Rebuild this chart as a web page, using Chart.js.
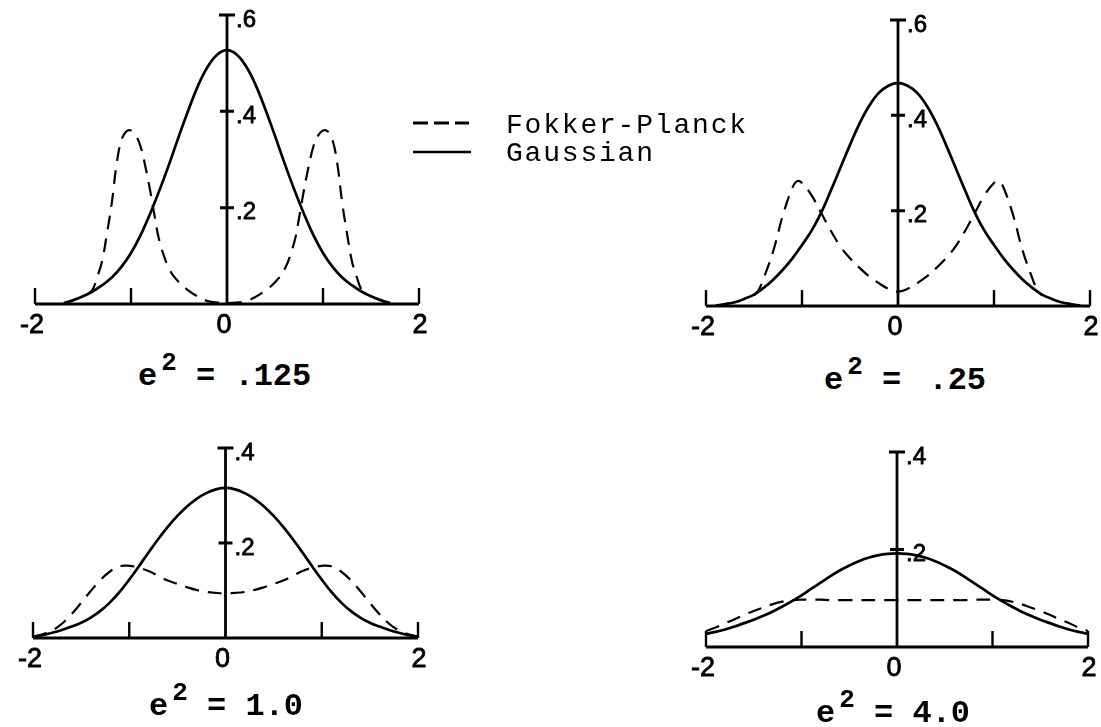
<!DOCTYPE html>
<html lang="en">
<head>
  <meta charset="utf-8">
  <title>Fokker-Planck vs Gaussian</title>
  <style>
    body { margin: 0; background: #fff; }
    #page { position: relative; width: 1101px; height: 727px; overflow: hidden; background: #fff; }
    canvas { position: absolute; }
    .mono { position: absolute; font-family: "Liberation Mono", "DejaVu Sans Mono", monospace; color: #000; white-space: pre; }
    .legend { font-size: 28px; line-height: 28px; letter-spacing: 1.8px; }
    .caption { font-size: 32px; line-height: 32px; font-weight: bold; }
    .caption sup { font-size: 26px; line-height: 0; position: relative; top: -3px; margin-left: 4px; }
    svg { position: absolute; }
  </style>
</head>
<body>
<div id="page">
  <canvas id="c1" width="450" height="350" style="left:0px;top:0px"></canvas>
  <canvas id="c2" width="441" height="350" style="left:660px;top:0px"></canvas>
  <canvas id="c3" width="450" height="327" style="left:0px;top:400px"></canvas>
  <canvas id="c4" width="441" height="327" style="left:660px;top:400px"></canvas>

  <!-- legend -->
  <svg width="70" height="44" style="left:408px;top:112px">
    <line x1="5" y1="11" x2="61" y2="11" stroke="#000" stroke-width="3" stroke-dasharray="15 6"></line>
    <line x1="5" y1="40" x2="63" y2="40" stroke="#000" stroke-width="2.6"></line>
  </svg>
  <div class="mono legend" style="left:506px;top:112px">Fokker-Planck</div>
  <div class="mono legend" style="left:506px;top:140px">Gaussian</div>

  <!-- captions -->
  <div class="mono caption" style="left:138px;top:361px">e<sup>2</sup> = .125</div>
  <div class="mono caption" style="left:824px;top:365px">e<sup>2</sup> = <span style="margin-left:8px">.25</span></div>
  <div class="mono caption" style="left:149px;top:691px">e<sup>2</sup> = 1.0</div>
  <div class="mono caption" style="left:816px;top:698px">e<sup>2</sup> = 4.0</div>
</div>

<script src="https://cdn.jsdelivr.net/npm/chart.js/dist/chart.umd.min.js"></script>
<script>
// axis ticks and labels
const xTickMarks = [-2, -1, 1, 2];
const xLabelValues = [-2, 0, 2];
const xLabels = ['-2', '0', '2'];
const yTicksTall = [0.2, 0.4, 0.6];
const yLabelsTall = ['.2', '.4', '.6'];
const yTicksShort = [0.2, 0.4];
const yLabelsShort = ['.2', '.4'];

// e^2 = .125
const x1Gauss = [-1.7, -1.6, -1.5, -1.4, -1.3, -1.2, -1.1, -1.0, -0.9, -0.8, -0.7, -0.6, -0.5, -0.4, -0.3, -0.2, -0.1, 0,
  0.1, 0.2, 0.3, 0.4, 0.5, 0.6, 0.7, 0.8, 0.9, 1.0, 1.1, 1.2, 1.3, 1.4, 1.5, 1.6, 1.7];
const gauss1 = [0.002, 0.008, 0.016, 0.026, 0.039, 0.055, 0.077, 0.106, 0.143, 0.188, 0.238, 0.292, 0.349, 0.404, 0.454, 0.493, 0.518, 0.527,
  0.518, 0.493, 0.454, 0.404, 0.349, 0.292, 0.238, 0.188, 0.143, 0.106, 0.077, 0.055, 0.039, 0.026, 0.016, 0.008, 0.002];
const x1Fokker = [-1.45, -1.4, -1.35, -1.3, -1.25, -1.2, -1.15, -1.1, -1.05, -1, -0.95, -0.9, -0.85, -0.8, -0.75, -0.7, -0.6, -0.5, -0.4, -0.3, -0.2, -0.1, 0,
  0.1, 0.2, 0.3, 0.4, 0.5, 0.6, 0.7, 0.75, 0.8, 0.85, 0.9, 0.95, 1, 1.05, 1.1, 1.15, 1.2, 1.25, 1.3, 1.35, 1.4, 1.45];
const fokker1 = [0.02, 0.03, 0.057, 0.09, 0.147, 0.21, 0.29, 0.34, 0.358, 0.36, 0.35, 0.327, 0.285, 0.235, 0.178, 0.128, 0.072, 0.045, 0.028, 0.015, 0.006, 0.003, 0.002,
  0.003, 0.006, 0.015, 0.028, 0.045, 0.072, 0.128, 0.178, 0.235, 0.285, 0.327, 0.35, 0.36, 0.358, 0.34, 0.29, 0.21, 0.147, 0.09, 0.057, 0.03, 0.02];

// e^2 = .25
const x2Gauss = [-1.9, -1.8, -1.7, -1.6, -1.5, -1.4, -1.3, -1.2, -1.1, -1.0, -0.9, -0.8, -0.7, -0.6, -0.5, -0.4, -0.3, -0.2, -0.1, 0,
  0.1, 0.2, 0.3, 0.4, 0.5, 0.6, 0.7, 0.8, 0.9, 1.0, 1.1, 1.2, 1.3, 1.4, 1.5, 1.6, 1.7, 1.8, 1.9];
const gauss2 = [0.001, 0.004, 0.008, 0.015, 0.024, 0.038, 0.055, 0.076, 0.1, 0.128, 0.158, 0.196, 0.242, 0.29, 0.338, 0.383, 0.42, 0.447, 0.462, 0.468,
  0.462, 0.447, 0.42, 0.383, 0.338, 0.29, 0.242, 0.196, 0.158, 0.128, 0.1, 0.076, 0.055, 0.038, 0.024, 0.015, 0.008, 0.004, 0.001];
const x2Fokker = [-1.5, -1.45, -1.4, -1.3, -1.2, -1.1, -1.05, -1, -0.9, -0.8, -0.7, -0.6, -0.5, -0.4, -0.3, -0.2, -0.1, 0,
  0.1, 0.2, 0.3, 0.4, 0.5, 0.6, 0.7, 0.8, 0.9, 1, 1.05, 1.1, 1.2, 1.3, 1.4, 1.45, 1.5];
const fokker2 = [0.022, 0.034, 0.058, 0.115, 0.19, 0.248, 0.262, 0.258, 0.232, 0.195, 0.158, 0.125, 0.1, 0.08, 0.062, 0.048, 0.036, 0.03,
  0.036, 0.048, 0.062, 0.08, 0.1, 0.125, 0.158, 0.195, 0.232, 0.258, 0.262, 0.248, 0.19, 0.115, 0.058, 0.034, 0.022];

// e^2 = 1.0 and 4.0 share the same x grid
const xFull = [-2, -1.9, -1.8, -1.7, -1.6, -1.5, -1.4, -1.3, -1.2, -1.1, -1.0, -0.9, -0.8, -0.7, -0.6, -0.5, -0.4, -0.3, -0.2, -0.1, 0,
  0.1, 0.2, 0.3, 0.4, 0.5, 0.6, 0.7, 0.8, 0.9, 1.0, 1.1, 1.2, 1.3, 1.4, 1.5, 1.6, 1.7, 1.8, 1.9, 2];
const gauss3 = [0.002, 0.006, 0.011, 0.017, 0.024, 0.032, 0.043, 0.057, 0.075, 0.097, 0.123, 0.151, 0.18, 0.208, 0.234, 0.257, 0.277, 0.293, 0.305, 0.313, 0.316,
  0.313, 0.305, 0.293, 0.277, 0.257, 0.234, 0.208, 0.18, 0.151, 0.123, 0.097, 0.075, 0.057, 0.043, 0.032, 0.024, 0.017, 0.011, 0.006, 0.002];
const fokker3 = [0.003, 0.008, 0.016, 0.03, 0.05, 0.074, 0.099, 0.122, 0.14, 0.151, 0.152, 0.148, 0.141, 0.131, 0.121, 0.114, 0.107, 0.101, 0.097, 0.095, 0.094,
  0.095, 0.097, 0.101, 0.107, 0.114, 0.121, 0.131, 0.141, 0.148, 0.152, 0.151, 0.14, 0.122, 0.099, 0.074, 0.05, 0.03, 0.016, 0.008, 0.003];
const gauss4 = [0.027, 0.031, 0.036, 0.042, 0.049, 0.056, 0.064, 0.073, 0.083, 0.094, 0.106, 0.119, 0.132, 0.145, 0.157, 0.167, 0.176, 0.183, 0.188, 0.191, 0.192,
  0.191, 0.188, 0.183, 0.176, 0.167, 0.157, 0.145, 0.132, 0.119, 0.106, 0.094, 0.083, 0.073, 0.064, 0.056, 0.049, 0.042, 0.036, 0.031, 0.027];
const fokker4 = [0.033, 0.04, 0.049, 0.057, 0.066, 0.074, 0.081, 0.088, 0.093, 0.096, 0.097, 0.097, 0.097, 0.096, 0.096, 0.096, 0.096, 0.096, 0.096, 0.096, 0.096,
  0.096, 0.096, 0.096, 0.096, 0.096, 0.096, 0.096, 0.097, 0.097, 0.097, 0.096, 0.093, 0.088, 0.081, 0.074, 0.066, 0.057, 0.049, 0.04, 0.033];

// hand-drawn style axes: baseline with upward ticks, centre axis with crossing ticks
const paperAxes = {
  id: 'paperAxes',
  beforeDatasetsDraw(chart, args, opts) {
    const ctx = chart.ctx;
    const xs = chart.scales.x, ys = chart.scales.y;
    const y0 = ys.getPixelForValue(0);
    const x0 = xs.getPixelForValue(0);
    ctx.save();
    ctx.strokeStyle = '#000';
    ctx.fillStyle = '#000';

    ctx.lineWidth = 2.8;
    ctx.beginPath();
    ctx.moveTo(xs.getPixelForValue(-2), y0);
    ctx.lineTo(xs.getPixelForValue(2), y0);
    ctx.stroke();

    ctx.lineWidth = 2.4;
    ctx.beginPath();
    xTickMarks.forEach(v => {
      const px = xs.getPixelForValue(v);
      ctx.moveTo(px, y0);
      ctx.lineTo(px, y0 - 16);
    });
    ctx.stroke();

    const top = ys.getPixelForValue(opts.ticks[opts.ticks.length - 1]);
    ctx.lineWidth = 2.8;
    ctx.beginPath();
    ctx.moveTo(x0, y0 + 1);
    ctx.lineTo(x0, top);
    ctx.stroke();

    ctx.beginPath();
    opts.ticks.forEach((v, i) => {
      const py = ys.getPixelForValue(v);
      const half = i === opts.ticks.length - 1 ? 8 : 7;
      ctx.moveTo(x0 - half, py);
      ctx.lineTo(x0 + half, py);
    });
    ctx.lineWidth = 3;
    ctx.stroke();

    // tick numbers, slightly thickened like typed-on lettering
    ctx.lineWidth = 0.8;
    ctx.font = '24px "Liberation Sans", Arial, sans-serif';
    ctx.textAlign = 'left';
    ctx.textBaseline = 'middle';
    opts.ticks.forEach((v, i) => {
      const py = ys.getPixelForValue(v) + 5;
      ctx.fillText(opts.labels[i], x0 + 9, py);
      ctx.strokeText(opts.labels[i], x0 + 9, py);
    });

    ctx.font = '27px "Liberation Sans", Arial, sans-serif';
    ctx.textBaseline = 'top';
    xLabelValues.forEach((v, i) => {
      const px = xs.getPixelForValue(v);
      let tx = px + (v === 0 ? -3 : 1);
      ctx.textAlign = 'center';
      if (v < 0) {
        ctx.textAlign = 'right';
        tx = px + 9;
      }
      ctx.fillText(xLabels[i], tx, y0 + 8);
      ctx.strokeText(xLabels[i], tx, y0 + 8);
    });
    ctx.restore();
  }
};

function pts(xs, ys) {
  return xs.map((x, i) => ({ x: x, y: ys[i] }));
}

function makePanel(id, pad, yMax, gx, gy, fx, fy, ticks, labels) {
  const ctx = document.getElementById(id).getContext('2d');
  return new Chart(ctx, {
    type: 'line',
    data: {
      datasets: [{
        label: 'Gaussian',
        data: pts(gx, gy),
        borderColor: '#000',
        borderWidth: 2.7,
        pointRadius: 0,
        tension: 0.4,
        fill: false,
        clip: false
      }, {
        label: 'Fokker-Planck',
        data: pts(fx, fy),
        borderColor: '#000',
        borderWidth: 2.2,
        borderDash: [14, 9],
        pointRadius: 0,
        tension: 0.4,
        fill: false,
        clip: false
      }]
    },
    options: {
      responsive: false,
      animation: false,
      devicePixelRatio: 1,
      layout: { padding: pad },
      scales: {
        x: { type: 'linear', min: -2, max: 2, display: false },
        y: { type: 'linear', min: 0, max: yMax, display: false }
      },
      plugins: {
        legend: { display: false },
        tooltip: { enabled: false },
        paperAxes: { ticks: ticks, labels: labels }
      }
    },
    plugins: [paperAxes]
  });
}

makePanel('c1', { left: 35, right: 31, top: 15, bottom: 46 }, 0.6, x1Gauss, gauss1, x1Fokker, fokker1, yTicksTall, yLabelsTall);
makePanel('c2', { left: 46, right: 11, top: 20, bottom: 44 }, 0.6, x2Gauss, gauss2, x2Fokker, fokker2, yTicksTall, yLabelsTall);
makePanel('c3', { left: 33, right: 32, top: 48, bottom: 89 }, 0.4, xFull, gauss3, xFull, fokker3, yTicksShort, yLabelsShort);
makePanel('c4', { left: 46, right: 13, top: 52, bottom: 80 }, 0.4, xFull, gauss4, xFull, fokker4, yTicksShort, yLabelsShort);
</script>
</body>
</html>
